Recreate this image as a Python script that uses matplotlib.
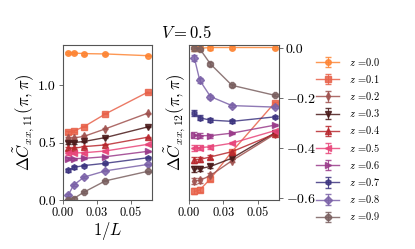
import numpy as np
import matplotlib
matplotlib.use("Agg")
import matplotlib.pyplot as plt
plt.rcParams["font.family"] = "serif"
plt.rcParams["font.serif"] = ["cmr10", "DejaVu Serif"]
plt.rcParams["mathtext.fontset"] = "cm"
plt.rcParams["axes.formatter.use_mathtext"] = True
plt.rcParams["font.size"] = 9

# 1/L values
invL = [1/256, 1/128, 1/64, 1/32, 1/16]
zs = ["0.0", "0.1", "0.2", "0.3", "0.4", "0.5", "0.6", "0.7", "0.8", "0.9"]
colors = ["#fd8535", "#e8624a", "#a0524f", "#4a1a1a", "#b8282e",
          "#e8457a", "#9a3b8a", "#3d3580", "#7b62a8", "#7a6060"]
markers = ["o", "s", "d", "v", "^", "<", ">", "h", "D", "8"]

# Delta C_xx,11(pi,pi)
c11 = [
    [1.28, 1.28, 1.275, 1.272, 1.257],
    [0.59, 0.60, 0.64, 0.75, 0.94],
    [0.54, 0.54, 0.555, 0.62, 0.757],
    [0.50, 0.50, 0.51, 0.544, 0.637],
    [0.45, 0.45, 0.465, 0.48, 0.547],
    [0.406, 0.41, 0.412, 0.427, 0.485],
    [0.36, 0.36, 0.363, 0.377, 0.424],
    [0.26, 0.284, 0.30, 0.32, 0.368],
    [0.044, 0.13, 0.20, 0.254, 0.31],
    [0.0, 0.012, 0.07, 0.167, 0.25],
]
# Delta C_xx,12(pi,pi)
c12 = [
    [-0.001, -0.001, 0.002, 0.002, 0.002],
    [-0.573, -0.567, -0.522, -0.414, -0.218],
    [-0.53, -0.529, -0.509, -0.45, -0.344],
    [-0.483, -0.482, -0.473, -0.44, -0.339],
    [-0.446, -0.445, -0.435, -0.414, -0.343],
    [-0.399, -0.398, -0.394, -0.38, -0.33],
    [-0.348, -0.35, -0.35, -0.34, -0.308],
    [-0.261, -0.279, -0.288, -0.293, -0.275],
    [-0.04, -0.129, -0.194, -0.23, -0.236],
    [0.0, -0.003, -0.064, -0.149, -0.189],
]
err = [0.012, 0.01, 0.008, 0.005, 0.004]

fig = plt.figure(figsize=(4.15, 2.49), dpi=100)
ax1 = fig.add_axes([63/415, 1-200/249, 89/415, 155/249])
ax2 = fig.add_axes([189/415, 1-200/249, 90/415, 155/249])

for i in range(len(zs)):
    kw = dict(color=colors[i], marker=markers[i], ms=4, lw=1, capsize=2,
              elinewidth=0.8, alpha=0.85, label=r"$z$ =" + zs[i])
    ax1.errorbar(invL, c11[i], yerr=err, **kw)
    ax2.errorbar(invL, c12[i], yerr=err, **kw)

for ax in (ax1, ax2):
    ax.set_xlim(0, 0.0655)
    ax.set_xticks([0, 0.025, 0.05])
    ax.set_xticklabels(["0.00", "0.03", "0.05"], fontsize=9)
    for s in ax.spines.values():
        s.set_color("#555555")
    ax.tick_params(length=3, width=0.6, color="#555555", pad=2)

ax1.set_ylim(0, 1.35)
ax1.set_yticks([0, 0.5, 1.0])
ax1.set_yticklabels(["0.0", "0.5", "1.0"], fontsize=10)
ax1.set_xlabel(r"$1/L$", fontsize=12, labelpad=1)
ax1.set_ylabel(r"$\Delta\tilde{C}_{xx,11}(\pi,\pi)$", fontsize=12, labelpad=1)

ax2.set_ylim(-0.607, 0.012)
ax2.yaxis.tick_right()
ax2.set_yticks([0, -0.2, -0.4, -0.6])
ax2.set_yticklabels(["0.0", "$-0.2$", "$-0.4$", "$-0.6$"], fontsize=10)
ax2.set_ylabel(r"$\Delta\tilde{C}_{xx,12}(\pi,\pi)$", fontsize=12, labelpad=1)

fig.text(186/415, 1-32/249, r"$V=0.5$", fontsize=12, ha="center", va="center")

h, l = ax1.get_legend_handles_labels()
fig.legend(h, l, loc="center left", bbox_to_anchor=(307/415, 1-139/249),
           frameon=False, fontsize=7.5, labelspacing=0.5, handlelength=2.2,
           handletextpad=0.9)

fig.savefig("out.png", dpi=100)
